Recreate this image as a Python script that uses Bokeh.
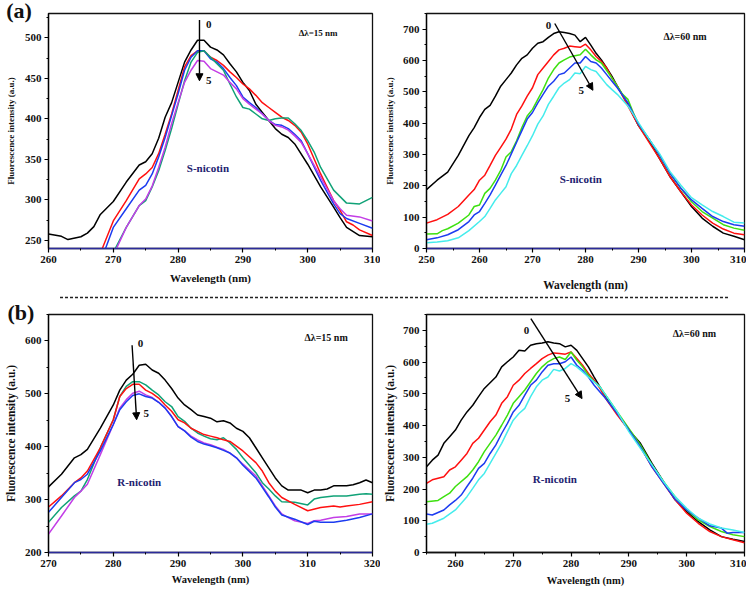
from bokeh.plotting import figure
from bokeh.models import Range1d, SingleIntervalTicker, Label, Arrow, NormalHead, GridBox, Div
from bokeh.embed import file_html
from bokeh.resources import INLINE

# ---------------- data ----------------
S15_X0 = [260,262,263,265,266,267,268,270,272,274,275,276,277,278,279,280,281,282,283,284,285,286,287,288,289,290,291,292,293,294,295,296,297,298,300,302,304,305,306,308,310]
S15_Y0 = [258,255,251,254.5,259,267,282,298,322,343,347,357,376,402,420,445,470,485,497,497,488.5,485,479,468,458,445,435,418,408,398,388,381,377,369,344,316,291,278,266,256,254.5]
S15_X1 = [268.3,270,272,274,275,276,277,278,279,280,281,282,283,284,285,286,287,288,289,290,291,292,293,294,295,296,297,298,299,300,302,304,305,306,307,308,310]
S15_Y1 = [240,274,299,326,332,340,357,381,406,435,464,478,484,484,476,472,466,458,451,443,437,429,420,414,408,402,398,392,383.5,369,332,299,287,273,269,263,256]
S15_X2 = [268.8,270,272,274,275,276,277,278,279,280,281,282,283,284,285,286,287,288,289,290,291,292,293,294,295,296,297,298,299,300,302,304,305,306,308,310]
S15_Y2 = [240,266,289,312,318,332,353,377,404,431,460,476,484,484,474,470,462,451,441,427,420,414,406,398,393,392,388,381,373,357,324,295,283,277,271,265]
S15_X3 = [270.3,272,274,275,276,277,278,279,280,281,282,283,284,285,286,287,288,289,290,291,292,293,294,295,296,297,298,299,300,301,302,304,305,306,308,310]
S15_Y3 = [240,266,293,299,316,336,361,388,418,447,470,482,484,476,468,460,443,427,414,412,406,400,398,400,401,401,394,385.5,373,359,340,312,304,296,295,303]
S15_X4 = [270.5,272,274,275,276,277,278,279,280,281,282,283,284,285,286,287,288,289,290,291,292,293,294,295,296,297,298,299,300,302,304,305,306,308,310]
S15_Y4 = [240,266,293,301,317,340,365,394,420,445,460,472,471,462,458,454,445,437,425,418,412,406,398,392,390,386,379,371,357,328,299,289,281,279,274]

S60_X0 = [250,252,254,256,258,259,260,261,262,263,264,265,266,267,268,269,270,271,272,273,274,275,276,277,278,279,280,281,282,283,284,285,286,288,290,292,294,296,298,300,302,304,306,308,310]
S60_Y0 = [188,218,244,297,360,386,418,444,457,486,518,539,560,586,607,618,639,655,660,674,686,692,689,686,681,660,674,649,623,602,576,549,518,460,392,344,286,228,181,134,97,71,49,39,28]
S60_X1 = S60_X0
S60_Y1 = [81,92,109,134,171,188,218,234,265,297,323,349,381,428,455,486,513,555,576,597,618,634,639,646,644,642,652,634,613,597,576,544,518,455,392,339,286,228,181,139,107,81,62,49,44]
S60_X2 = [250,252,253,254,256,258,259,260,261,262,263,264,265,266,267,268,269,270,271,272,273,274,275,276,277,278,279,280,281,282,283,284,285,286,287,288,289,290,292,294,296,298,300,302,304,306,308,310]
S60_Y2 = [46,47,57,63,81,107,134,139,176,192,218,249,292,309,344,386,423,444,476,507,544,571,592,602,611,615,618,636,618,602,592,568,544,518,492,476,434,397,349,297,239,192,149,118,97,76,65,58]
S60_X3 = S60_X0
S60_Y3 = [28,34,44,60,86,107,118,144,171,202,234,265,302,339,376,413,434,465,492,518,534,555,560,576,592,592,613,597,592,576,555,534,513,465,397,349,297,239,192,155,128,102,86,76,71]
S60_X4 = [250,252,254,256,258,260,261,262,263,264,265,266,267,268,269,270,271,272,273,274,275,276,277,278,279,280,281,282,283,284,285,286,288,290,292,294,296,298,300,302,304,306,308,310]
S60_Y4 = [18,21,25,34,57,86,102,128,155,176,197,239,265,297,328,360,397,423,460,486,513,528,539,560,558,581,571,565,544,523,507,492,455,402,349,302,244,202,162,139,118,102,84,81]

R15_X0 = [270,272,274,275,276,278,280,281,282,283,284,285,286,287,288,289,290,291,292,293,294,295,296,297,298,299,300,301,302,303,304,305,306,307,308,309,310,311,312,313,314,316,317,318,319,320]
R15_Y0 = [324,348,379,385,395,435,479,507,526,537,554,556,545,539,526,510,492,479,470,460,457,454,447,449,445,435,429,417,398,379,360,341,326,318,318,318,313,318,318,320,326,326,328,332,337,332]
R15_X1 = [270,272,274,275,276,278,280,281,282,283,284,285,286,287,288,289,290,291,292,293,294,295,296,297,298,299,300,302,303,304,305,306,308,310,311,312,314,316,318,319,320]
R15_Y1 = [257,285,307,316,338,398,451,495,514,523,523,517,507,498,485,476,457,448,435,426,420,415,413,417,407,395,379,351,332,320,307,296,295,290,301,304,307,307,310,311,310]
R15_X2 = [270,272,274,275,276,278,280,281,282,283,284,285,286,287,288,289,290,291,292,293,294,295,296,297,298,299,300,302,303,304,305,306,308,310,312,314,315,316,318,320]
R15_Y2 = [286,307,332,341,354,398,451,495,510,518,518,507,501,492,479,467,451,445,435,429,423,420,417,413,410,401,392,370,354,332,316,304,291,279,285,288,286,288,291,296]
R15_X3 = [270,272,274,275,276,278,280,281,282,283,284,285,286,287,288,289,290,291,292,293,294,295,296,297,298,299,300,302,303,304,305,306,307,308,310,311,312,314,316,318,320]
R15_Y3 = [235,269,304,316,329,385,442,473,489,501,505,498,493,484,473,457,438,430,420,413,407,404,399,395,388,379,367,345,326,307,288,273,266,260,255,260,261,266,268,273,273]
R15_X4 = [270,272,274,275,276,278,280,281,282,283,284,285,286,287,288,289,290,291,292,293,294,295,296,297,298,299,300,302,303,304,305,306,308,310,311,312,314,316,318,320]
R15_Y4 = [276,304,332,338,348,392,442,470,485,497,500,495,492,484,473,457,438,430,418,410,405,402,398,393,388,379,365,341,323,305,286,271,263,253,259,257,257,261,266,273]

R60_X0 = [255,256,257,258,259,260,261,262,263,264,265,266,267,268,269,270,271,272,273,274,275,276,277,278,279,280,281,282,283,284,285,286,288,290,292,293,294,296,298,300,302,304,306,308,310]
R60_Y0 = [270,291,307,344,365,386,417,443,464,491,517,535,553,585,601,616,637,635,653,658,660,664,660,658,648,653,637,611,585,553,522,491,438,386,344,312,281,223,166,129,97,71,50,42,35]
R60_X1 = [255,256,258,259,260,261,262,263,264,265,266,267,268,269,270,271,272,273,274,275,276,277,278,279,280,281,282,283,284,285,286,288,290,292,294,296,298,300,302,304,306,308,310]
R60_Y1 = [218,229,239,260,270,291,312,344,360,386,412,433,470,491,527,543,564,580,595,611,622,629,627,625,632,611,590,564,543,517,485,433,386,333,270,218,166,124,92,66,50,40,31]
R60_X2 = [255,257,258,259,260,262,263,264,265,266,267,268,269,270,271,272,273,274,275,276,277,278,279,280,281,282,283,284,285,286,288,290,292,294,296,298,300,302,304,306,308,310]
R60_Y2 = [160,164,176,187,208,239,260,286,318,344,370,401,433,470,491,512,538,564,585,601,611,616,608,632,606,585,559,538,522,496,443,391,339,276,223,176,134,103,82,66,56,50]
R60_X3 = [255,256,257,258,259,260,261,262,263,264,265,266,267,268,269,270,271,272,273,274,275,276,277,278,279,280,281,282,283,284,285,286,288,290,292,294,296,298,300,302,304,306,307,308,310]
R60_Y3 = [121,118,126,134,150,164,181,208,234,265,281,312,339,375,407,443,464,496,527,543,569,590,595,595,601,616,590,574,553,527,506,485,438,386,333,270,218,168,134,108,84,77,61,63,63]
R60_X4 = [255,256,258,260,262,263,264,265,266,267,268,269,270,271,272,273,274,275,276,277,278,279,280,281,282,283,284,285,286,288,290,292,294,296,298,300,302,304,306,308,310]
R60_Y4 = [89,92,108,134,176,202,229,249,281,312,344,381,417,438,454,491,522,543,553,577,572,580,595,585,569,553,538,522,496,443,381,328,276,223,176,139,108,90,77,71,63]

PANEL_TAGS = ["(a)", "(b)"]
COLORS_15 = ["#000000", "#ff1010", "#1c3cf0", "#10a277", "#c33ee6"]
COLORS_15B = ["#000000", "#10a277", "#ff1010", "#c33ee6", "#1c3cf0"]
COLORS_60 = ["#000000", "#ff1010", "#3ee010", "#1c3cf0", "#45ecec"]

X_LABEL = "Wavelength (nm)"
Y_LABEL = "Fluorescence intensity (a.u.)"
FONT = "Liberation Serif"
NAVY = "#2b2b9b"


def make_fig(w, h, xr, yr, ystep, bl, br, bt, bb, ylab_size, xlab_size, xstandoff, ystandoff, bottom_color):
    p = figure(width=w, height=h, x_range=Range1d(*xr), y_range=Range1d(*yr),
               output_backend="svg", toolbar_location=None, title=None,
               min_border_left=bl, min_border_right=br, min_border_top=bt, min_border_bottom=bb)
    p.grid.visible = False
    p.background_fill_color = "white"
    p.border_fill_color = "white"
    p.outline_line_color = "#111111"
    p.outline_line_width = 1.3
    p.xaxis.ticker = SingleIntervalTicker(interval=10, num_minor_ticks=2)
    p.yaxis.ticker = SingleIntervalTicker(interval=ystep, num_minor_ticks=2)
    for ax in (p.xaxis[0], p.yaxis[0]):
        ax.major_tick_out = 4
        ax.major_tick_in = 0
        ax.minor_tick_out = 2
        ax.minor_tick_in = 0
        ax.major_label_text_font = FONT
        ax.major_label_text_font_style = "bold"
        ax.major_label_text_font_size = "11px"
        ax.major_label_text_color = "#111111"
        ax.axis_label_text_font = FONT
        ax.axis_label_text_font_style = "bold"
        ax.axis_label_text_color = "#111111"
        ax.axis_line_width = 1.3
        ax.major_tick_line_width = 1.2
    p.xaxis.axis_label = X_LABEL
    p.yaxis.axis_label = Y_LABEL
    p.xaxis.axis_label_text_font_size = xlab_size
    p.yaxis.axis_label_text_font_size = ylab_size
    p.xaxis.major_label_standoff = 3
    p.yaxis.major_label_standoff = 3
    p.xaxis.axis_label_standoff = xstandoff
    p.yaxis.axis_label_standoff = ystandoff
    p.xaxis.axis_line_color = bottom_color
    p.xaxis.axis_line_width = 1.6
    return p


def add_text(p, x, y, text, size, color="#111111", align="left"):
    p.add_layout(Label(x=x, y=y, text=text, text_font=FONT, text_font_style="bold",
                       text_font_size=size, text_color=color, text_align=align,
                       text_baseline="middle"))


def add_arrow(p, x0, y0, x1, y1):
    p.add_layout(Arrow(end=NormalHead(size=7, fill_color="black", line_color="black", line_width=1),
                       x_start=x0, y_start=y0, x_end=x1, y_end=y1,
                       line_color="black", line_width=1.4))


# ---- panel (a) left
p1 = make_fig(380, 296, (260, 310), (240, 530), 50, 48, 8, 13, 48, "9px", "11px", 6, 6, NAVY)
for xs, ys, c in zip([S15_X0, S15_X1, S15_X2, S15_X3, S15_X4],
                     [S15_Y0, S15_Y1, S15_Y2, S15_Y3, S15_Y4], COLORS_15):
    p1.line(xs, ys, line_color=c, line_width=1.5)
add_text(p1, 298.6, 506, "Δλ=15 nm", "9px")
add_text(p1, 284.6, 339, "S-nicotin", "11px", color="#222270", align="center")
add_arrow(p1, 283.3, 522, 283.3, 447)
add_text(p1, 284.3, 517, "0", "11px")
add_text(p1, 284.3, 447, "5", "11px")

# ---- panel (a) right
p2 = make_fig(366, 296, (250, 310), (0, 750), 100, 38, 2, 13, 45, "9px", "11.5px", 13, 5, NAVY)
for xs, ys, c in zip([S60_X0, S60_X1, S60_X2, S60_X3, S60_X4],
                     [S60_Y0, S60_Y1, S60_Y2, S60_Y3, S60_Y4], COLORS_60):
    p2.line(xs, ys, line_color=c, line_width=1.5)
add_text(p2, 294.7, 678, "Δλ=60 nm", "10px")
add_text(p2, 279.1, 223, "S-nicotin", "11px", color="#222270", align="center")
add_arrow(p2, 274.2, 718, 281.4, 505)
add_text(p2, 273.0, 713, "0", "11px", align="center")
add_text(p2, 279.2, 505, "5", "11px", align="center")

# ---- panel (b) left
p3 = make_fig(380, 294, (270, 320), (200, 650), 100, 47, 6, 16, 38, "11.5px", "10.5px", 4, 5, NAVY)
for xs, ys, c in zip([R15_X0, R15_X1, R15_X2, R15_X3, R15_X4],
                     [R15_Y0, R15_Y1, R15_Y2, R15_Y3, R15_Y4], COLORS_15B):
    p3.line(xs, ys, line_color=c, line_width=1.5)
add_text(p3, 309.5, 606, "Δλ=15 nm", "10px")
add_text(p3, 284.0, 333, "R-nicotin", "11px", color="#222270", align="center")
add_arrow(p3, 282.9, 592, 283.6, 451)
add_text(p3, 284.2, 595, "0", "11px", align="center")
add_text(p3, 285.1, 462, "5", "11px", align="center")

# ---- panel (b) right
p4 = make_fig(366, 294, (255, 310), (0, 750), 100, 38, 2, 18, 37, "11.5px", "10.5px", 5, 4, "#111111")
for xs, ys, c in zip([R60_X0, R60_X1, R60_X2, R60_X3, R60_X4],
                     [R60_Y0, R60_Y1, R60_Y2, R60_Y3, R60_Y4], COLORS_60):
    p4.line(xs, ys, line_color=c, line_width=1.5)
add_text(p4, 297.6, 690, "Δλ=60 nm", "10px")
add_text(p4, 277.2, 231, "R-nicotin", "11px", color="#222270", align="center")
add_arrow(p4, 272.3 + 0.75, 737, 281.9, 485)
add_text(p4, 272.3, 700, "0", "11px", align="center")
add_text(p4, 279.4, 485, "5", "11px", align="center")

# ---- panel tags and dashed separator as small HTML overlays
TAG_STYLE = ('font-family="Liberation Serif" font-weight="bold" font-size="22" fill="#111111" '
             'text-anchor="middle" style="font-family:\'Liberation Serif\',\'Times New Roman\',serif !important;'
             'font-weight:bold !important;font-size:22px !important;font-style:normal !important"')
tag_a = Div(text=f'<svg width="40" height="30"><text x="19" y="18" {TAG_STYLE}>{PANEL_TAGS[0]}</text></svg>',
            width=40, height=30, margin=(0, 0, 0, 0),
            styles={"font-family": "'Liberation Serif', serif"})
tag_b = Div(text=('<svg width="746" height="32">'
                  '<line x1="60" y1="1.5" x2="728" y2="1.5" stroke="#222" stroke-width="1.6" stroke-dasharray="3 2"/>'
                  f'<text x="21" y="24" {TAG_STYLE}>{PANEL_TAGS[1]}</text></svg>'),
            width=746, height=32, margin=(0, 0, 0, 0),
            styles={"font-family": "'Liberation Serif', serif"})

grid = GridBox(children=[(p1, 0, 0), (p2, 0, 1), (p3, 1, 0), (p4, 1, 1),
                         (tag_a, 0, 0), (tag_b, 1, 0, 1, 2)])

open("out.html", "w").write(file_html(grid, INLINE))
